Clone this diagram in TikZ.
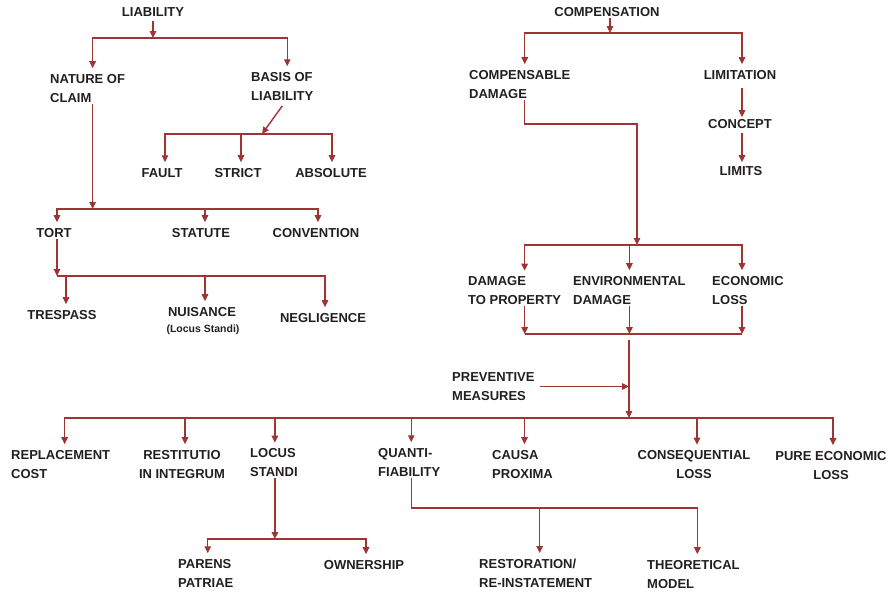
\documentclass[tikz,border=0pt]{standalone}
\usepackage{fontspec}
\setmainfont{Liberation Sans}
\usetikzlibrary{arrows.meta}
\definecolor{linkred}{RGB}{158,52,52}
\definecolor{inkgray}{RGB}{35,31,32}

\begin{document}
\begin{tikzpicture}[x=1pt, y=-1pt,
	main/.style = {font=\fontsize{13}{19}\selectfont\bfseries, text=inkgray, inner sep=1pt, align=left},
	small/.style = {font=\fontsize{10.5}{12}\selectfont\bfseries, text=inkgray, inner sep=1pt},
	link/.style = {draw=linkred, line width=1.4pt},
	arr/.style = {link, -{Triangle[width=6.5pt, length=7pt]}},
	tonode/.style = {arr, shorten >=5pt}]

	\useasboundingbox (0,0) rectangle (891,592);

	% liability
	\node[main] (Liab) at (153, 12) {LIABILITY};
	\node[main, anchor=west] (Nat) at (49, 88.5) {NATURE OF\\CLAIM};
	\node[main, anchor=west] (Bas) at (250, 86.5) {BASIS OF\\LIABILITY};
	\node[main] (Fault) at (162, 173) {FAULT};
	\node[main] (Strict) at (238, 173) {STRICT};
	\node[main] (Abs) at (331, 173) {ABSOLUTE};
	\node[main] (Tort) at (54, 233) {TORT};
	\node[main] (Stat) at (201, 233) {STATUTE};
	\node[main] (Conv) at (316, 233) {CONVENTION};
	\node[main] (Tres) at (62, 315) {TRESPASS};
	\node[main] (Nuis) at (202, 312) {NUISANCE};
	\node[small] (NuisNote) at (203, 330) {(Locus Standi)};
	\node[main] (Negl) at (323, 318) {NEGLIGENCE};

	\coordinate (LiabJ) at (153, 38);
	\coordinate (BasJ) at (262, 134);
	\coordinate (NatJ) at ([xshift=5pt]Nat.south |- 0,209);
	\coordinate (TortJ) at ([xshift=3pt]Tort.south |- 0,276);

	\draw[arr, shorten <=3pt] (Liab) -- (LiabJ);
	\draw[tonode] (LiabJ) -| ([xshift=5pt]Nat.north);
	\draw[tonode] (LiabJ) -| ([xshift=5pt]Bas.north);
	\draw[arr, shorten <=5pt] ([xshift=3pt]Bas.south) -- (BasJ);
	\draw[tonode] (BasJ) -| ([xshift=3pt]Fault.north);
	\draw[tonode] (BasJ) -| ([xshift=3pt]Strict.north);
	\draw[tonode] (BasJ) -| ([xshift=1pt]Abs.north);
	\draw[arr] ([xshift=5pt]Nat.south) -- (NatJ);
	\draw[tonode] (NatJ) -| ([xshift=3pt]Tort.north);
	\draw[tonode] (NatJ) -| ([xshift=4pt]Stat.north);
	\draw[tonode] (NatJ) -| ([xshift=2pt]Conv.north);
	\draw[arr] ([xshift=3pt]Tort.south) -- (TortJ);
	\draw[tonode] (TortJ) -| ([xshift=4pt]Tres.north);
	\draw[tonode] (TortJ) -| ([xshift=3pt]Nuis.north);
	\draw[tonode] (TortJ) -| ([xshift=2pt]Negl.north);

	% compensation
	\node[main] (Comp) at (607, 12) {COMPENSATION};
	\node[main, anchor=west] (CDam) at (468, 84.5) {COMPENSABLE\\DAMAGE};
	\node[main] (Limn) at (740, 75) {LIMITATION};
	\node[main] (Conc) at (740, 124) {CONCEPT};
	\node[main] (Lims) at (741, 171) {LIMITS};
	\node[main, anchor=west] (DProp) at (467, 291) {DAMAGE\\TO PROPERTY};
	\node[main, anchor=west] (DEnv) at (572, 290.5) {ENVIRONMENTAL\\DAMAGE};
	\node[main, anchor=west] (ELoss) at (711, 290.5) {ECONOMIC\\LOSS};
	\node[main, anchor=west] (Prev) at (451, 386.5) {PREVENTIVE\\MEASURES};

	\coordinate (CompJ) at ([xshift=3pt]Comp.south |- 0,33);
	\coordinate (CBend) at (637, 124);
	\coordinate (CDamJ) at (637, 245);
	\coordinate (SumJ) at (629, 334);
	\coordinate (MainJ) at (629, 418);

	\draw[arr] ([xshift=3pt]Comp.south) -- (CompJ);
	\draw[tonode] (CompJ) -| ([xshift=5pt]CDam.north);
	\draw[tonode] (CompJ) -| ([xshift=2pt]Limn.north);
	\draw[arr, shorten <=7pt, shorten >=1pt] ([xshift=2pt]Limn.south) -- ([xshift=2pt]Conc.north);
	\draw[arr, shorten <=3pt, shorten >=3pt] ([xshift=2pt]Conc.south) -- ([xshift=1pt]Lims.north);
	\draw[arr] ([xshift=5pt]CDam.south) |- (CBend) -- (CDamJ);
	\draw[tonode] (CDamJ) -| ([xshift=10pt]DProp.north);
	\draw[tonode] (CDamJ) -| (DEnv.north);
	\draw[tonode] (CDamJ) -| ([xshift=-6pt]ELoss.north);
	\draw[arr] ([xshift=10pt]DProp.south) -- ([xshift=10pt]DProp.south |- SumJ);
	\draw[arr] (DEnv.south) -- (DEnv.south |- SumJ);
	\draw[arr] ([xshift=-6pt]ELoss.south) -- ([xshift=-6pt]ELoss.south |- SumJ);
	\draw[link] ([xshift=10pt]DProp.south |- SumJ) -- ([xshift=-6pt]ELoss.south |- SumJ);
	\draw[arr, shorten <=6pt] (SumJ) -- (MainJ);
	\draw[arr, shorten <=4pt] (Prev) -- (Prev -| MainJ);

	% lower level
	\node[main, anchor=west] (Repl) at (10, 464.5) {REPLACEMENT\\COST};
	\node[main, align=center] (Rest) at (182, 464.5) {RESTITUTIO\\IN INTEGRUM};
	\node[main, anchor=west] (Loc) at (249, 463) {LOCUS\\STANDI};
	\node[main, anchor=west] (Quan) at (377, 462.5) {QUANTI-\\FIABILITY};
	\node[main, anchor=west] (Caus) at (491, 464.5) {CAUSA\\PROXIMA};
	\node[main, align=center] (Cons) at (694, 465) {CONSEQUENTIAL\\LOSS};
	\node[main, align=center] (Pure) at (831, 465.5) {PURE ECONOMIC\\LOSS};
	\node[main, anchor=west] (Par) at (177, 573.5) {PARENS\\PATRIAE};
	\node[main] (Own) at (364, 565) {OWNERSHIP};
	\node[main, anchor=west] (Rsto) at (478, 573.5) {RESTORATION/\\RE-INSTATEMENT};
	\node[main, anchor=west] (Theo) at (646, 574.5) {THEORETICAL\\MODEL};

	\coordinate (LocJ) at ([xshift=1pt]Loc.south |- 0,539);
	\coordinate (QuanJ) at ([xshift=2pt]Quan.south |- 0,508);

	\draw[tonode] (MainJ) -| ([xshift=4pt]Repl.north);
	\draw[tonode] (MainJ) -| ([xshift=3pt]Rest.north);
	\draw[tonode] (MainJ) -| ([xshift=1pt]Loc.north);
	\draw[tonode] (MainJ) -| ([xshift=2pt]Quan.north);
	\draw[tonode] (MainJ) -| ([xshift=2pt]Caus.north);
	\draw[tonode] (MainJ) -| ([xshift=3pt]Cons.north);
	\draw[tonode] (MainJ) -| ([xshift=2pt]Pure.north);
	\draw[arr] ([xshift=1pt]Loc.south) -- (LocJ);
	\draw[tonode] (LocJ) -| ([xshift=2pt]Par.north);
	\draw[tonode] (LocJ) -| ([xshift=2pt]Own.north);
	\draw[link] ([xshift=2pt]Quan.south) -- (QuanJ);
	\draw[tonode] (QuanJ) -| ([xshift=4pt]Rsto.north);
	\draw[tonode] (QuanJ) -| ([xshift=4pt]Theo.north);

\end{tikzpicture}
\end{document}
